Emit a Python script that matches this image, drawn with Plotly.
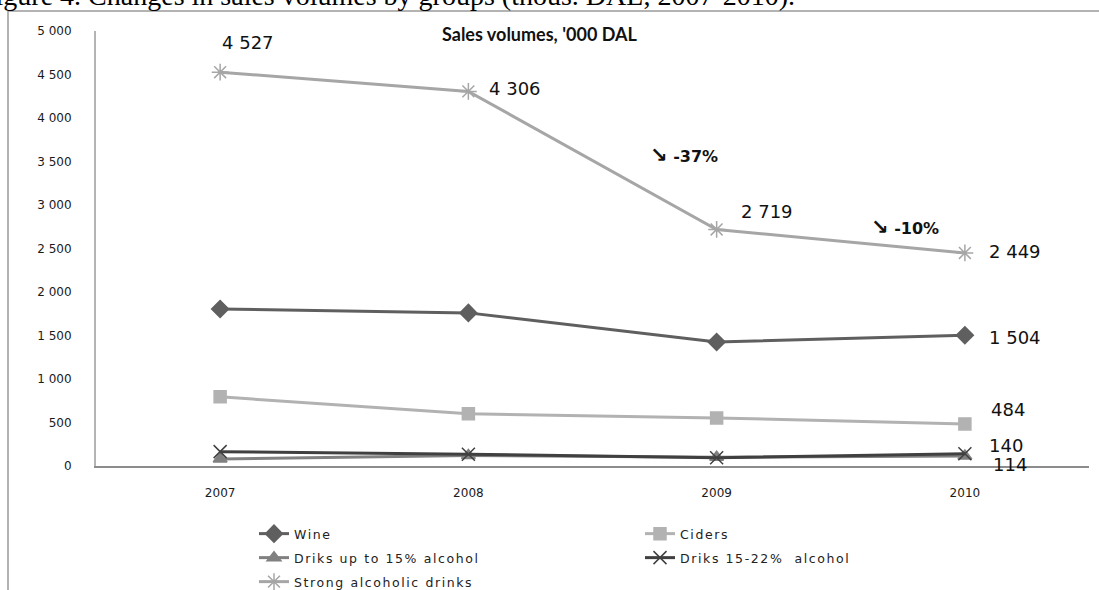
import plotly.graph_objects as go

# ---- data ----
years = ["2007", "2008", "2009", "2010"]
wine = [1805, 1760, 1425, 1504]
ciders = [795, 600, 552, 484]
driks_upto15 = [80, 120, 100, 114]
driks_15_22 = [165, 135, 95, 140]
strong = [4527, 4306, 2719, 2449]

series_names = ["Wine", "Ciders", "Driks up to 15% alcohol", "Driks 15-22%  alcohol", "Strong alcoholic drinks"]
y_ticks = [0, 500, 1000, 1500, 2000, 2500, 3000, 3500, 4000, 4500, 5000]
y_ticktext = [f"{v:,}".replace(",", " ") for v in y_ticks]

W, H = 1099, 590
L, R, T, B = 96, 1089, 31, 466


def px(xp):
    return (xp - L) / (R - L)


def py(yp):
    return (B - yp) / (B - T)


def fmt(v):
    return f"{v:,}".replace(",", " ")


styles = [
    dict(data=wine, color="#5f5f5f", symbol="diamond", size=13, lw=3, legend="legend"),
    dict(data=ciders, color="#b2b2b2", symbol="square", size=12, lw=3, legend="legend2"),
    dict(data=driks_upto15, color="#808080", symbol="triangle-up", size=12, lw=3, legend="legend3"),
    dict(data=driks_15_22, color="#404040", symbol="x-thin-open", size=13, lw=3, legend="legend4"),
    dict(data=strong, color="#a6a6a6", symbol="asterisk-open", size=14, lw=3, legend="legend5"),
]

fig = go.Figure()
for name, s in zip(series_names, styles):
    fig.add_trace(go.Scatter(
        x=years, y=s["data"], mode="lines+markers",
        name="<span style='letter-spacing:1.6px'>" + name + "</span>",
        line=dict(color=s["color"], width=s["lw"]),
        marker=dict(symbol=s["symbol"], size=s["size"], color=s["color"],
                    line=dict(color=s["color"], width=1.5)),
        legend=s["legend"], showlegend=True,
    ))

lab_font = dict(family="DejaVu Sans", size=18, color="#111111")
ann = []
# Strong alcoholic drinks labels (x given as category index)
strong_shift = [(28, 30), (47, 3), (50, 18), (50, 1)]
for i, (dx, dy) in enumerate(strong_shift):
    ann.append(dict(x=i, y=strong[i], xref="x", yref="y", text=fmt(strong[i]),
                    showarrow=False, xshift=dx, yshift=dy, font=lab_font))
# last-point labels for other series
last = len(years) - 1
for data, (dx, dy) in [(wine, (50, -2)), (ciders, (43, 14)), (driks_15_22, (41, 8)), (driks_upto15, (45, -8))]:
    ann.append(dict(x=last, y=data[last], xref="x", yref="y", text=fmt(data[last]),
                    showarrow=False, xshift=dx, yshift=dy, font=lab_font))

pct_font = dict(family="DejaVu Sans", size=16, color="#111111")
ann.append(dict(x=px(684), y=py(155), xref="paper", yref="paper", xanchor="center", yanchor="middle",
                text="<b><span style='font-size:21px'>↘</span> -37%</b>",
                showarrow=False, font=pct_font))
ann.append(dict(x=px(905), y=py(227), xref="paper", yref="paper", xanchor="center", yanchor="middle",
                text="<b><span style='font-size:21px'>↘</span> -10%</b>",
                showarrow=False, font=pct_font))
# chart title
ann.append(dict(x=px(539), y=py(34), xref="paper", yref="paper", xanchor="center", yanchor="middle",
                text="<b>Sales volumes, '000 DAL</b>",
                showarrow=False, font=dict(family="Lato", size=18, color="#111111")))
# caption above the chart frame (cut by the top edge, as in the source)
ann.append(dict(x=px(-22), y=py(13), xref="paper", yref="paper", xanchor="left", yanchor="bottom",
                text="Figure 4. Changes in sales volumes by groups (thous. DAL, 2007-2010).",
                showarrow=False, font=dict(family="Liberation Serif", size=28, color="#000000")))

leg_font = dict(family="DejaVu Sans", size=12.5, color="#222222")
leg_common = dict(orientation="v", xanchor="left", yanchor="middle", font=leg_font,
                  bgcolor="rgba(0,0,0,0)", itemwidth=30, tracegroupgap=0)
legend_pos = {
    "legend": (254, 534), "legend2": (640, 534),
    "legend3": (254, 558), "legend4": (640, 558),
    "legend5": (254, 582),
}
layout_legends = {k: dict(x=px(x), y=py(y), **leg_common) for k, (x, y) in legend_pos.items()}

fig.update_layout(
    width=W, height=H,
    margin=dict(l=L, r=W - R, t=T, b=H - B, autoexpand=False),
    paper_bgcolor="white", plot_bgcolor="white",
    showlegend=True,
    annotations=ann,
    xaxis=dict(type="category", range=[-0.5, 3.5], showgrid=False, zeroline=False,
               showline=True, linecolor="#8c8c8c", linewidth=1.5, ticks="",
               tickfont=dict(family="DejaVu Sans", size=12, color="#1a1a1a"),
               ticklabelstandoff=15),
    yaxis=dict(range=[0, 5000], tickvals=y_ticks, ticktext=y_ticktext, showgrid=False,
               zeroline=False, showline=True, linecolor="#b4b4b4", linewidth=2, ticks="",
               tickfont=dict(family="DejaVu Sans", size=12, color="#1a1a1a"),
               ticklabelstandoff=20),
    shapes=[
        dict(type="line", xref="paper", yref="paper", x0=px(8), x1=px(1110), y0=py(11), y1=py(11),
             line=dict(color="#9a9a9a", width=1.5)),
        dict(type="line", xref="paper", yref="paper", x0=px(8), x1=px(8), y0=py(11), y1=py(600),
             line=dict(color="#9a9a9a", width=1.5)),
    ],
    **layout_legends,
)

fig.write_html("out.html", config={"displayModeBar": False},
               post_script="document.body.style.margin='0';document.body.style.overflow='hidden';")
